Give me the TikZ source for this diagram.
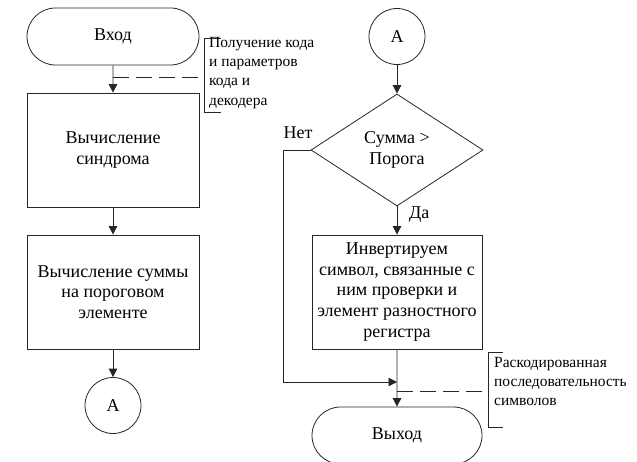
\documentclass[tikz,border=0pt]{standalone}
\usepackage{fontspec}
\setmainfont{Liberation Serif}
\usetikzlibrary{arrows.meta,shapes.geometric,shapes.misc}
\begin{document}
\begin{tikzpicture}[x=1pt,y=-1pt,
  line/.style={draw=black!85, line width=0.8pt},
  arr/.style={line, -{Triangle[width=8.5pt,length=8.5pt]}},
  boxfont/.style={font=\fontsize{18}{20.8}\selectfont},
  term/.style={line, rounded rectangle, minimum width=172pt, minimum height=57pt, inner sep=0pt, boxfont},
  proc/.style={line, rectangle, minimum width=172pt, minimum height=114pt, inner sep=0pt, align=center, boxfont},
  conn/.style={line, circle, minimum size=56pt, inner sep=0pt, boxfont},
  dec/.style={line, diamond, minimum width=172pt, minimum height=112pt, inner sep=0pt, align=center, boxfont},
  note/.style={align=left, anchor=north west, inner sep=0pt, font=\fontsize{15.5}{19.3}\selectfont},
  lbl/.style={inner sep=0pt, font=\fontsize{18}{20}\selectfont},
  dashline/.style={line, dash pattern=on 16pt off 7pt}
]
\useasboundingbox (0,0) rectangle (637,462);

% left column
\node[term] (in) at (113,36.5) {Вход};
\node[proc] (syn) at (113,150) {Вычисление\\синдрома};
\node[proc] (sum) at (113,292) {Вычисление суммы\\на пороговом\\элементе};
\node[conn] (a1) at (113,405.5) {А};
\draw[arr] (in) -- (syn);
\draw[arr] (syn) -- (sum);
\draw[arr] (sum) -- (a1);

% input annotation
\coordinate (d1) at (113,77);
\coordinate (d1e) at (203,77);
\draw[dashline] (d1) -- (d1e);
\coordinate (b1t) at (221,38);
\coordinate (b1b) at (221,112);
\draw[line] (b1t) -- (204,38) -- (204,112) -- (b1b);
\node[note] (n1) at (209,37) {Получение кода\\и параметров\\кода и\\декодера};

% right column
\node[conn] (a2) at (397,36.5) {А};
\node[dec] (cmp) at (397,150) {Сумма >\\Порога};
\node[proc, minimum width=170pt] (inv) at (397,292) {Инвертируем\\символ, связанные с\\ним проверки и\\элемент разностного\\регистра};
\node[term, minimum width=170pt] (out) at (397,435.5) {Выход};
\draw[arr] (a2) -- (cmp);
\draw[arr] (cmp) -- (inv);
\node[lbl, anchor=west] (yes) at (409,215) {Да};
\node[lbl] (no) at (298,133) {Нет};
\coordinate (join) at (397,382);
\draw[arr] (cmp.west) -| (283,382) -- (join);
\draw[arr] (inv) -- (out);

% output annotation
\coordinate (d2) at (397,391);
\coordinate (d2e) at (483,391);
\draw[dashline] (d2) -- (d2e);
\coordinate (b2t) at (503,352);
\coordinate (b2b) at (503,427);
\draw[line] (b2t) -- (488,352) -- (488,427) -- (b2b);
\node[note] (n2) at (494,357) {Раскодированная\\последовательность\\символов};
\end{tikzpicture}
\end{document}
